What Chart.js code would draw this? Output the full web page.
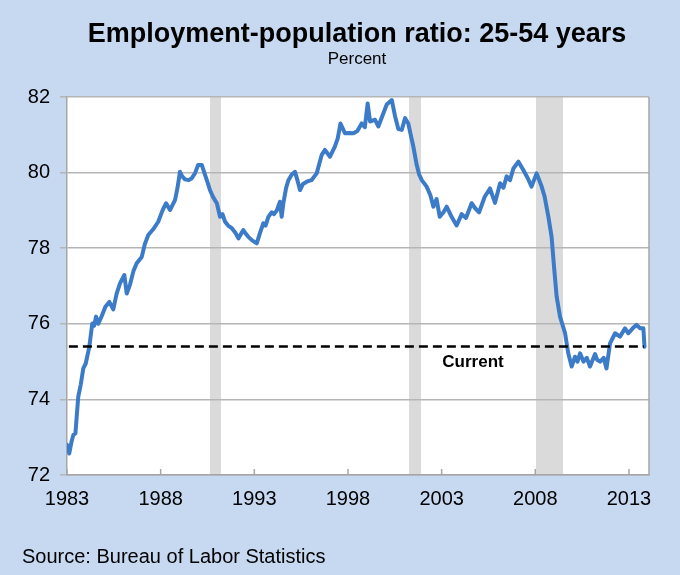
<!DOCTYPE html>
<html>
<head>
<meta charset="utf-8">
<script src="https://cdn.jsdelivr.net/npm/chart.js@4.4.1/dist/chart.umd.min.js"></script>
<style>
  html, body { margin: 0; padding: 0; background: #c6d9f1; }
  #wrap { width: 680px; height: 575px; position: relative; }
</style>
</head>
<body>
<div id="wrap"><canvas id="myChart"></canvas></div>
<script>
// Prime-age employment-population ratio (decimal year, percent)
var years = [
  1983.00, 1983.12, 1983.25, 1983.34, 1983.45, 1983.60, 1983.73, 1983.87,
  1984.00, 1984.19, 1984.35, 1984.45, 1984.55, 1984.67, 1984.85,
  1985.05, 1985.26, 1985.47, 1985.65, 1985.83,
  1986.06, 1986.19, 1986.36, 1986.55, 1986.72, 1986.99,
  1987.15, 1987.34, 1987.60, 1987.87,
  1988.10, 1988.29, 1988.50, 1988.77, 1988.90,
  1989.03, 1989.15, 1989.30, 1989.50, 1989.66, 1989.83,
  1990.00, 1990.20, 1990.37, 1990.50, 1990.63, 1990.80,
  1991.00, 1991.17, 1991.30, 1991.44, 1991.60, 1991.80,
  1992.00, 1992.15, 1992.41, 1992.55, 1992.68, 1992.90,
  1993.13, 1993.30, 1993.48, 1993.60, 1993.75, 1993.93,
  1994.05, 1994.20, 1994.37, 1994.46, 1994.55, 1994.70, 1994.82,
  1995.00, 1995.17, 1995.30, 1995.44, 1995.60, 1995.80,
  1996.05, 1996.33, 1996.60, 1996.77,
  1997.04, 1997.30, 1997.45, 1997.60, 1997.84,
  1998.05, 1998.29, 1998.50, 1998.73, 1998.90,
  1999.05, 1999.18, 1999.44, 1999.62, 1999.89,
  2000.07, 2000.34, 2000.51, 2000.69, 2000.87,
  2001.05, 2001.22, 2001.35, 2001.49, 2001.67, 2001.80, 2001.94,
  2002.20, 2002.40, 2002.56, 2002.73, 2002.90,
  2003.10, 2003.27, 2003.53, 2003.80,
  2004.07, 2004.30, 2004.60, 2004.80,
  2005.00, 2005.30, 2005.58, 2005.85,
  2006.12, 2006.30, 2006.47, 2006.65, 2006.83,
  2007.10, 2007.36, 2007.60, 2007.80,
  2008.07, 2008.34, 2008.50, 2008.70, 2008.87,
  2009.00, 2009.14, 2009.32, 2009.59, 2009.76, 2009.94,
  2010.12, 2010.25, 2010.39, 2010.57, 2010.75, 2010.92,
  2011.19, 2011.30, 2011.46, 2011.65, 2011.80, 2011.99,
  2012.26, 2012.52, 2012.79, 2012.97,
  2013.20, 2013.40, 2013.60, 2013.77, 2013.83
];
var ratio = [
  72.80, 72.57, 72.90, 73.06, 73.10, 74.07, 74.38, 74.82,
  74.95, 75.39, 76.01, 75.95, 76.19, 76.00, 76.20,
  76.45, 76.58, 76.38, 76.80, 77.07,
  77.29, 76.80, 77.03, 77.40, 77.60, 77.77,
  78.10, 78.35, 78.50, 78.70,
  79.00, 79.19, 79.01, 79.28, 79.60,
  80.02, 79.90, 79.82, 79.80, 79.85, 79.98,
  80.20, 80.20, 79.94, 79.75, 79.54, 79.35,
  79.19, 78.83, 78.90, 78.70, 78.60, 78.53,
  78.40, 78.26, 78.48, 78.38, 78.30, 78.20,
  78.13, 78.40, 78.66, 78.60, 78.83, 78.95,
  78.90, 79.00, 79.23, 78.83, 79.19, 79.60, 79.80,
  79.95, 80.02, 79.80, 79.54, 79.70, 79.76,
  79.80, 79.98, 80.47, 80.60,
  80.42, 80.69, 80.90, 81.30, 81.04,
  81.05, 81.04, 81.10, 81.30, 81.20,
  81.83, 81.35, 81.40, 81.22, 81.57,
  81.80, 81.92, 81.50, 81.15, 81.13,
  81.44, 81.30, 81.00, 80.69, 80.20, 79.95, 79.80,
  79.63, 79.40, 79.10, 79.30, 78.83,
  78.95, 79.10, 78.83, 78.60,
  78.90, 78.80, 79.19, 79.05,
  78.95, 79.36, 79.58, 79.20,
  79.72, 79.60, 79.90, 79.80, 80.11,
  80.29, 80.07, 79.85, 79.63,
  79.98, 79.63, 79.36, 78.83, 78.30,
  77.51, 76.72, 76.19, 75.75, 75.22, 74.87,
  75.13, 75.00, 75.22, 75.00, 75.10, 74.87,
  75.20, 75.05, 75.00, 75.10, 74.82, 75.48,
  75.75, 75.66, 75.88, 75.75,
  75.88, 75.97, 75.88, 75.88, 75.39
];
var xTicks = [1983, 1988, 1993, 1998, 2003, 2008, 2013];
var recessions = [[1990.63, 1991.22], [2001.26, 2001.9], [2008.04, 2009.48]];
var currentLevel = 75.4;
var currentSpan = [1983.1, 2013.8];

Chart.defaults.font.family = "Arial, 'Liberation Sans', sans-serif";

var decorations = {
  id: 'decorations',
  beforeDraw: function(chart) {
    var ctx = chart.ctx, a = chart.chartArea, x = chart.scales.x;
    ctx.save();
    ctx.fillStyle = '#c6d9f1';
    ctx.fillRect(0, 0, chart.width, chart.height);
    ctx.fillStyle = '#ffffff';
    ctx.fillRect(a.left, a.top, a.right - a.left, a.bottom - a.top);
    // recession bands
    ctx.fillStyle = '#dadada';
    recessions.forEach(function(r) {
      var x0 = x.getPixelForValue(r[0]), x1 = x.getPixelForValue(r[1]);
      ctx.fillRect(x0, a.top, x1 - x0, a.bottom - a.top);
    });
    ctx.restore();
  },
  afterDraw: function(chart) {
    var ctx = chart.ctx, a = chart.chartArea, x = chart.scales.x, y = chart.scales.y;
    ctx.save();
    // right border and small inside ticks on the x axis
    ctx.strokeStyle = '#a6a6a6';
    ctx.lineWidth = 1.5;
    ctx.beginPath();
    ctx.moveTo(a.right, a.top);
    ctx.lineTo(a.right, a.bottom);
    xTicks.forEach(function(t) {
      var px = x.getPixelForValue(t);
      ctx.moveTo(px, a.bottom);
      ctx.lineTo(px, a.bottom - 6);
    });
    ctx.stroke();

    ctx.fillStyle = '#000000';
    ctx.textAlign = 'center';
    ctx.textBaseline = 'alphabetic';
    ctx.font = "bold 27px Arial, 'Liberation Sans', sans-serif";
    ctx.fillText('Employment-population ratio: 25-54 years', 357, 42);
    ctx.font = "17px Arial, 'Liberation Sans', sans-serif";
    ctx.fillText('Percent', 357, 64);

    ctx.font = "bold 17px Arial, 'Liberation Sans', sans-serif";
    ctx.fillText('Current', 473, y.getPixelForValue(currentLevel) + 21);

    ctx.textAlign = 'left';
    ctx.font = "20px Arial, 'Liberation Sans', sans-serif";
    ctx.fillText('Source: Bureau of Labor Statistics', 22, 563);
    ctx.restore();
  }
};

var chart = new Chart(document.getElementById('myChart'), {
  type: 'line',
  data: {
    datasets: [
      {
        data: currentSpan.map(function(v) { return { x: v, y: currentLevel }; }),
        borderColor: '#000000',
        borderWidth: 2.5,
        borderDash: [9, 5],
        pointRadius: 0,
        fill: false,
        order: 0
      },
      {
        data: years.map(function(v, i) { return { x: v, y: ratio[i] }; }),
        borderColor: '#3b7bc8',
        borderWidth: 4,
        borderJoinStyle: 'round',
        borderCapStyle: 'round',
        pointRadius: 0,
        tension: 0,
        fill: false,
        order: 1
      }
    ]
  },
  options: {
    animation: false,
    responsive: true,
    maintainAspectRatio: false,
    events: [],
    layout: {
      padding: { top: 97, right: 31, bottom: 0, left: 0 }
    },
    scales: {
      x: {
        type: 'linear',
        min: 1983,
        max: 2014.07,
        afterBuildTicks: function(scale) {
          scale.ticks = xTicks.map(function(v) { return { value: v }; });
        },
        afterFit: function(scale) { scale.height = 100; },
        grid: { display: false },
        border: { display: true, color: '#a6a6a6', width: 1.5 },
        ticks: {
          autoSkip: false,
          maxRotation: 0,
          padding: 4,
          color: '#000000',
          font: { size: 20 },
          callback: function(v) { return String(v); }
        }
      },
      y: {
        min: 72,
        max: 82,
        afterFit: function(scale) { scale.width = 67; },
        grid: {
          color: '#b5b5b5',
          lineWidth: 1.5,
          tickLength: 7,
          tickColor: '#b5b5b5'
        },
        border: { display: true, color: '#a6a6a6', width: 1.5 },
        ticks: {
          stepSize: 2,
          padding: 10,
          color: '#000000',
          font: { size: 20 }
        }
      }
    },
    plugins: {
      legend: { display: false },
      tooltip: { enabled: false }
    }
  },
  plugins: [decorations]
});
</script>
</body>
</html>
